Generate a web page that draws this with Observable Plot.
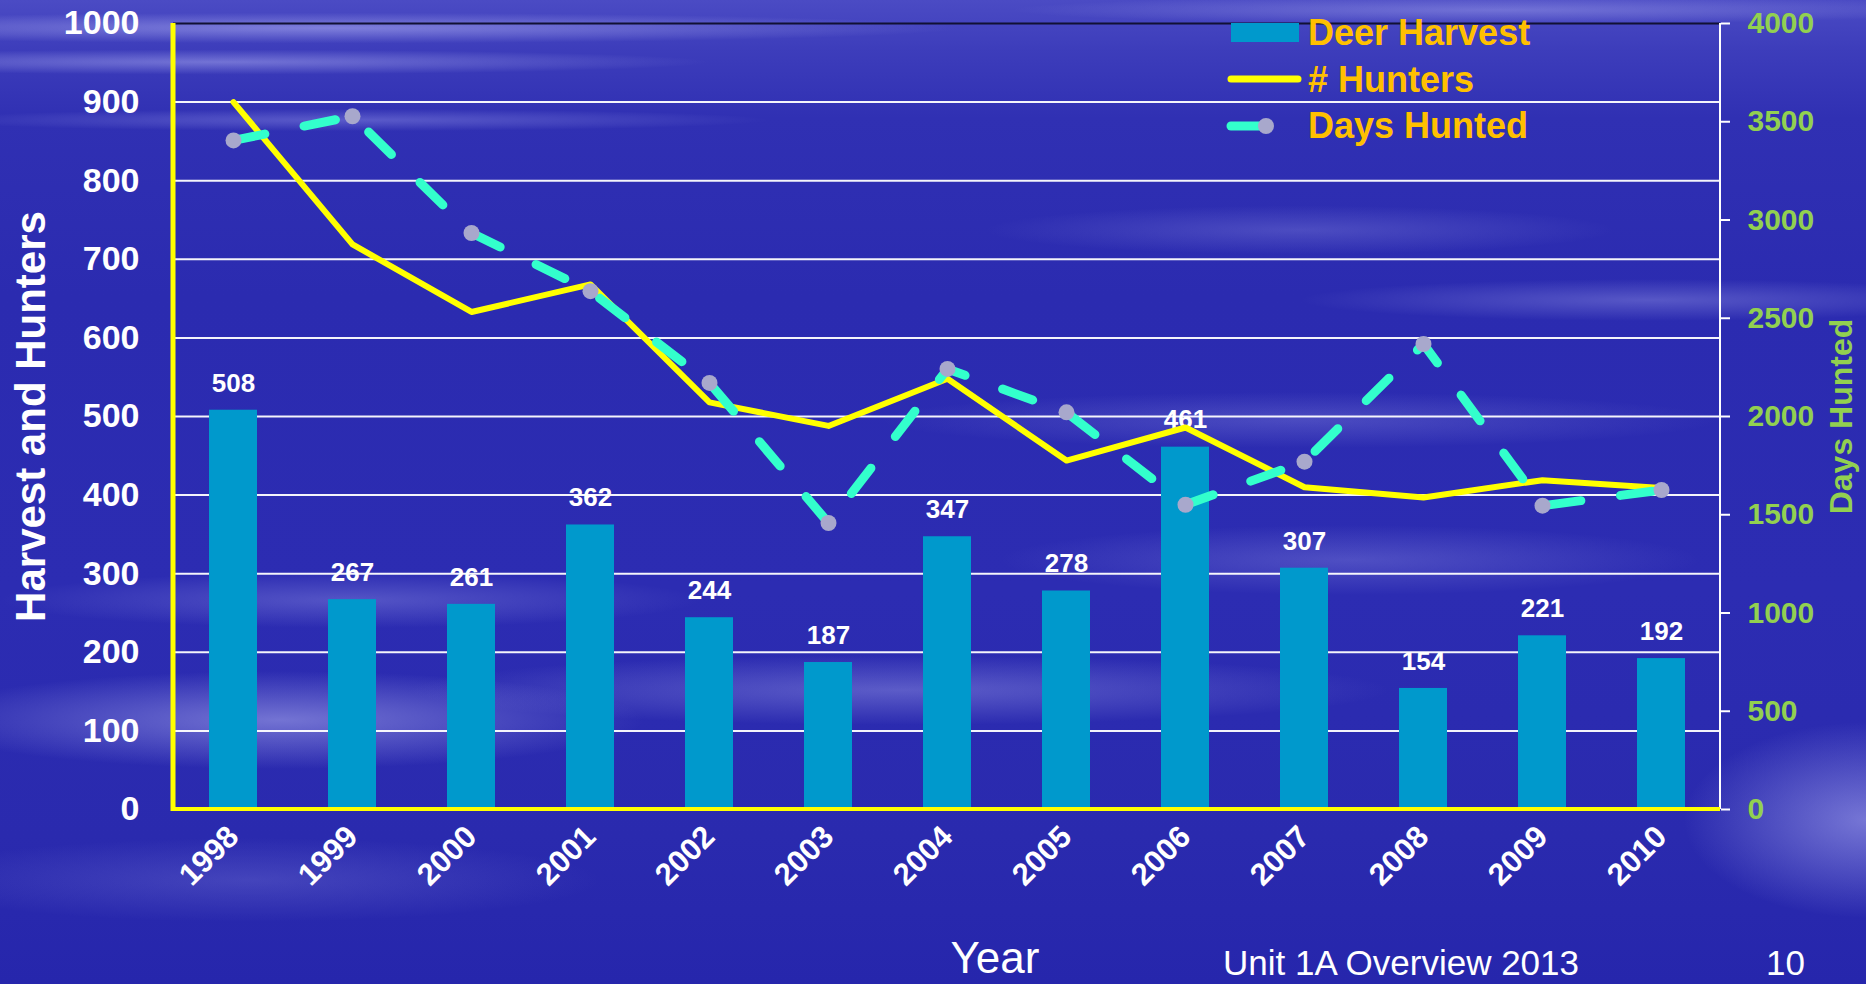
<!DOCTYPE html>
<html><head><meta charset="utf-8">
<script src="https://cdn.jsdelivr.net/npm/d3@7"></script>
<script src="https://cdn.jsdelivr.net/npm/@observablehq/plot@0.6"></script>
<style>
html,body{margin:0;padding:0;width:1866px;height:984px;overflow:hidden;}
body{position:relative;font-family:"Liberation Sans",Arial,sans-serif;
background:
 radial-gradient(ellipse 900px 22px at 330px 28px, rgba(200,200,255,0.45), rgba(200,200,255,0) 70%),
 radial-gradient(ellipse 700px 18px at 220px 62px, rgba(200,200,255,0.40), rgba(200,200,255,0) 70%),
 radial-gradient(ellipse 600px 16px at 350px 120px, rgba(190,190,255,0.30), rgba(190,190,255,0) 70%),
 radial-gradient(ellipse 700px 20px at 1500px 10px, rgba(190,190,250,0.35), rgba(190,190,250,0) 70%),
 radial-gradient(ellipse 500px 30px at 1650px 300px, rgba(170,170,240,0.35), rgba(170,170,240,0) 70%),
 radial-gradient(ellipse 450px 35px at 1300px 230px, rgba(170,170,240,0.25), rgba(170,170,240,0) 70%),
 radial-gradient(ellipse 600px 40px at 1300px 420px, rgba(170,170,240,0.25), rgba(170,170,240,0) 70%),
 radial-gradient(ellipse 520px 70px at 280px 720px, rgba(175,175,240,0.55), rgba(175,175,240,0) 70%),
 radial-gradient(ellipse 500px 40px at 350px 600px, rgba(160,160,235,0.35), rgba(160,160,235,0) 70%),
 radial-gradient(ellipse 700px 50px at 900px 690px, rgba(165,165,235,0.40), rgba(165,165,235,0) 70%),
 radial-gradient(ellipse 500px 50px at 1350px 560px, rgba(160,160,235,0.30), rgba(160,160,235,0) 70%),
 radial-gradient(ellipse 260px 140px at 1866px 820px, rgba(180,180,245,0.55), rgba(180,180,245,0) 70%),
 radial-gradient(ellipse 500px 60px at 250px 880px, rgba(150,150,230,0.25), rgba(150,150,230,0) 70%),
 linear-gradient(to bottom, #4b4bc4 0%, #3d3dbb 5%, #3030b3 12%, #2b2bb0 30%, #2c2cb2 60%, #2a2aae 85%, #2626ac 100%);
}
#chart{position:absolute;left:0;top:0;}
#overlay{position:absolute;left:0;top:0;pointer-events:none;}
</style></head><body>
<div id="chart"></div>
<svg id="overlay" width="1866" height="984"></svg>
<script>
const years = ["1998","1999","2000","2001","2002","2003","2004","2005","2006","2007","2008","2009","2010"];
const deerHarvest = [508,267,261,362,244,187,347,278,461,307,154,221,192];
const numHunters = [900,719,633,668,518,488,548,444,486,410,397,419,409];
const daysHunted = [3405,3528,2934,2638,2171,1458,2242,2021,1551,1770,2369,1546,1626];
const leftTicks = [0,100,200,300,400,500,600,700,800,900,1000];
const rightTicks = [0,500,1000,1500,2000,2500,3000,3500,4000];
const seriesNames = ["Deer Harvest","# Hunters","Days Hunted"];

const ratio = 1000/4000;
const rows = years.map((y,i)=>({year:y, harvest:deerHarvest[i], hunters:numHunters[i], days:daysHunted[i]}));

const font = "'Liberation Sans', Arial, sans-serif";
const barColor = "#0099cc", huntColor = "#ffff00", daysColor = "#33ffcc", dotColor = "#a8a8cc";

const axisLines = (index, scales, values, dims) => {
  const {width, height, marginLeft, marginRight, marginTop, marginBottom} = dims;
  const g = d3.create("svg:g");
  const x0 = marginLeft, x1 = width - marginRight, y0 = marginTop, y1 = height - marginBottom;
  g.append("line").attr("x1",x1).attr("x2",x1).attr("y1",y0).attr("y2",y1).attr("stroke","white").attr("stroke-width",2);
  g.append("line").attr("x1",x0-2).attr("x2",x1).attr("y1",y1).attr("y2",y1).attr("stroke",huntColor).attr("stroke-width",4);
  g.append("line").attr("x1",x0).attr("x2",x0).attr("y1",y0).attr("y2",y1+2).attr("stroke",huntColor).attr("stroke-width",5);
  return g.node();
};

const chart = Plot.plot({
  width: 1866, height: 984,
  marginLeft: 173, marginRight: 146, marginTop: 23, marginBottom: 175,
  style: {background: "transparent", fontFamily: font, overflow: "visible"},
  x: {type: "band", domain: years, paddingInner: 0.6, paddingOuter: 0.3, axis: null, label: null},
  y: {domain: [0, 1000], axis: null, label: null},
  marks: [
    Plot.ruleY(leftTicks.filter(t => t > 0 && t < 1000), {stroke: "white", strokeWidth: 2, strokeOpacity: 0.95}),
    Plot.ruleY([1000], {stroke: "#111133", strokeWidth: 2}),
    Plot.barY(rows, {x: "year", y: "harvest", fill: barColor}),
    Plot.text(rows, {x: "year", y: "harvest", text: d => String(d.harvest), dy: -27, fill: "white", fontSize: 26, fontWeight: "bold"}),
    Plot.line(rows, {x: "year", y: "hunters", stroke: huntColor, strokeWidth: 6}),
    Plot.line(rows, {x: "year", y: d => d.days * ratio, stroke: daysColor, strokeWidth: 9, strokeLinecap: "round", strokeDasharray: "32,40"}),
    Plot.dot(rows, {x: "year", y: d => d.days * ratio, r: 8, fill: dotColor, stroke: "none"}),
    axisLines,
    Plot.axisY({anchor: "left", ticks: leftTicks, tickFormat: d => String(d), tickSize: 0, tickPadding: 34, fontSize: 34, fontWeight: "bold", fill: "white", label: null}),
    Plot.axisY({anchor: "right", ticks: rightTicks.map(t => t * ratio), tickFormat: d => String(Math.round(d / ratio)), tickSize: 9, tickPadding: 18, stroke: "white", strokeWidth: 2, fill: "#92d050", fontSize: 30, fontWeight: "bold", label: null}),
    Plot.axisX({anchor: "bottom", tickSize: 0, tickRotate: -45, tickPadding: 22, fontSize: 31, fontWeight: "bold", fill: "white", label: null}),
    Plot.text(["Harvest and Hunters"], {frameAnchor: "left", textAnchor: "middle", rotate: -90, dx: -142, fontSize: 42, fontWeight: "bold", fill: "white"}),
    Plot.text(["Days Hunted"], {frameAnchor: "right", textAnchor: "middle", rotate: -90, dx: 121, fontSize: 32, fontWeight: "bold", fill: "#92d050"})
  ]
});
document.getElementById("chart").appendChild(chart);

// legend and footer
const ov = d3.select("#overlay");
const lg = ov.append("g").attr("font-family", font).attr("font-weight", "bold").attr("font-size", 36).attr("fill", "#ffc000");
lg.append("rect").attr("x", 1231).attr("y", 23).attr("width", 68).attr("height", 19).attr("fill", barColor);
lg.append("line").attr("x1", 1231).attr("x2", 1298).attr("y1", 79).attr("y2", 79).attr("stroke", huntColor).attr("stroke-width", 7).attr("stroke-linecap", "round");
lg.append("line").attr("x1", 1231).attr("x2", 1265).attr("y1", 126).attr("y2", 126).attr("stroke", daysColor).attr("stroke-width", 9).attr("stroke-linecap", "round");
lg.append("circle").attr("cx", 1266).attr("cy", 126).attr("r", 8).attr("fill", dotColor);
const baselines = [45, 92, 138];
seriesNames.forEach((n, i) => lg.append("text").attr("x", 1308).attr("y", baselines[i]).text(n));

const ft = ov.append("g").attr("font-family", font).attr("fill", "white");
ft.append("text").attr("x", 995).attr("y", 973).attr("text-anchor", "middle").attr("font-size", 44).text("Year");
ft.append("text").attr("x", 1223).attr("y", 975).attr("font-size", 35).text("Unit 1A Overview 2013");
ft.append("text").attr("x", 1766).attr("y", 975).attr("font-size", 35).text("10");
</script>
</body></html>
